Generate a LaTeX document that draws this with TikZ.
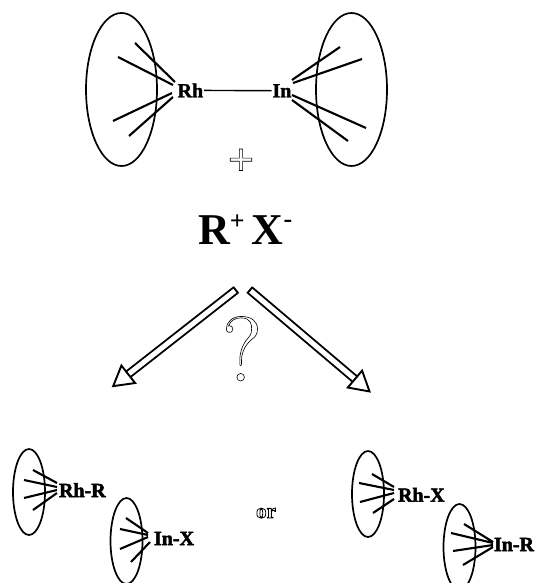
\documentclass[tikz,border=0pt]{standalone}
\usepackage{fontspec}
\setmainfont{Liberation Serif}
\newfontfamily\lmfont{Latin Modern Roman}
\usetikzlibrary{arrows.meta}
\newcommand{\outl}[2]{\special{pdf:code 1 Tr #1 w}#2\special{pdf:code 0 Tr 1 w}}
\newcommand{\heavy}[2]{\special{pdf:code 2 Tr #1 w}#2\special{pdf:code 0 Tr 1 w}}
\tikzset{
  ring/.style={draw=black,line width=1.7pt,fill=none},
  ligand/.style={draw=black,line width=2.1pt},
  atom/.style={inner sep=0pt,outer sep=1pt,anchor=base west,font=\fontsize{20}{22}\selectfont\bfseries},
  bond/.style={draw=black,line width=1.4pt},
  bigarrow/.style={draw=black,line width=1.9pt,double=white,double distance=5pt,
    {Bar[width=8.5pt,line width=1.9pt]}-{Triangle[open,fill=white,length=22pt,width=25pt,line width=1.9pt]}},
  hollow/.style={inner sep=0pt,anchor=base,text=black}
}
\begin{document}
\begin{tikzpicture}[x=1pt,y=-1pt]
\useasboundingbox (0,0) rectangle (536,583);
% top complex
\draw[ring] (121.5,89.5) ellipse [x radius=35.5,y radius=76.5];
\draw[ring] (351.5,89.5) ellipse [x radius=35.5,y radius=76.5];
\draw[ligand] (135,43)--(175,82) (118,57)--(173,85) (113,121)--(172,93) (129,136)--(173,97);
\draw[ligand] (340,47)--(292,80) (362,59)--(293,83) (366,128)--(292,95) (348,141)--(292,100);
\node[atom] (rh) at (176.6,97.3) {\heavy{0.3}{Rh}};
\node[atom] (in) at (271.5,97.3) {\heavy{0.3}{In}};
\draw[bond] (rh) -- (in);
\node[hollow,font=\fontsize{46}{48}\selectfont\bfseries] (plus) at (241,175) {\outl{0.7}{+}};
% reagent
\node[inner sep=0pt,anchor=base west,font=\fontsize{44}{46}\selectfont\bfseries] (rx) at (198,244)
  {R\raisebox{15pt}{\fontsize{26}{28}\selectfont\bfseries +}\hspace{7pt}X\raisebox{17pt}{\fontsize{26}{28}\selectfont\bfseries -}};
% arrows
\coordinate (la) at (236.5,289.5);
\coordinate (lb) at (111.7,387.3);
\coordinate (ra) at (249.2,289.5);
\coordinate (rb) at (371,392.7);
\draw[bigarrow] (la) -- (lb);
\draw[bigarrow] (ra) -- (rb);
\node[hollow,font=\fontsize{92}{94}\lmfont] (q) at (242,381) {\outl{0.6}{?}};
% products left
\draw[ring] (29,492) ellipse [x radius=16,y radius=43];
\draw[ligand] (33,470)--(57,483) (24,480)--(57,487) (24,498)--(57,490) (33,510)--(57,493);
\node[atom] (rhr) at (58,497) {\heavy{0.5}{Rh-R}};
\draw[ring] (126.5,541) ellipse [x radius=16,y radius=43];
\draw[ligand] (126,518)--(148,533) (120,529)--(148,535) (120,549)--(148,537) (131,562)--(150,542);
\node[atom] (inx) at (153,545) {\heavy{0.5}{In-X}};
\node[hollow,font=\fontsize{21}{23}\selectfont\bfseries] (or) at (266,518) {\outl{0.8}{or}};
% products right
\draw[ring] (368,494) ellipse [x radius=16,y radius=43];
\draw[ligand] (372,474)--(394,487) (359,483)--(394,490) (360,502)--(394,493) (373,513)--(394,499);
\node[atom] (rhx) at (397,501.7) {\heavy{0.5}{Rh-X}};
\draw[ring] (459.5,547) ellipse [x radius=16,y radius=43];
\draw[ligand] (464,524)--(493,542) (451,533)--(493,543) (453,551)--(493,545) (463,565)--(493,547);
\node[atom] (inr) at (493,551) {\heavy{0.5}{In-R}};
\end{tikzpicture}
\end{document}
